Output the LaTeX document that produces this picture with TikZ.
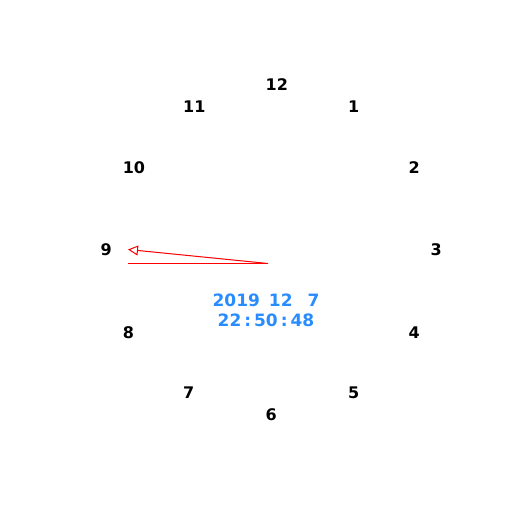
\documentclass[tikz,border=0pt]{standalone}
\usepackage{fontspec}
\setmainfont{DejaVu Sans}
\usetikzlibrary{arrows.meta}
\definecolor{stampblue}{RGB}{40,140,255}
\begin{document}
\begin{tikzpicture}[
  x=1pt, y=-1pt,
  numeral/.style={anchor=west, xshift=-5.5pt, inner sep=0pt, font=\fontsize{16}{18}\selectfont\bfseries},
  stamp/.style={text=stampblue, inner sep=0pt, font=\fontsize{17}{20}\selectfont\bfseries}
]
\useasboundingbox (0,0) rectangle (525,508);
% dial numbers
\foreach \h in {1,...,12} {
  \node[numeral] (h\h) at ({271+165*sin(30*\h)},{250-165*cos(30*\h)}) {\h};
}
% date and time
\node[stamp] (date) at (266,300) {2019\hspace{9pt}12\hspace{15pt}7};
\node[stamp] (time) at (266,320) {22\hspace{3pt}:\hspace{3pt}50\hspace{3pt}:\hspace{3pt}48};
% hand
\coordinate (pivot) at (268,263.5);
\coordinate (tip) at (128,249.5);
\coordinate (rest) at (128,263.5);
\draw[red, line width=1pt, -{Triangle[open, length=10pt, width=10pt]}] (pivot) -- (tip);
\draw[red, line width=1.6pt] (rest) -- (pivot);
\end{tikzpicture}
\end{document}
